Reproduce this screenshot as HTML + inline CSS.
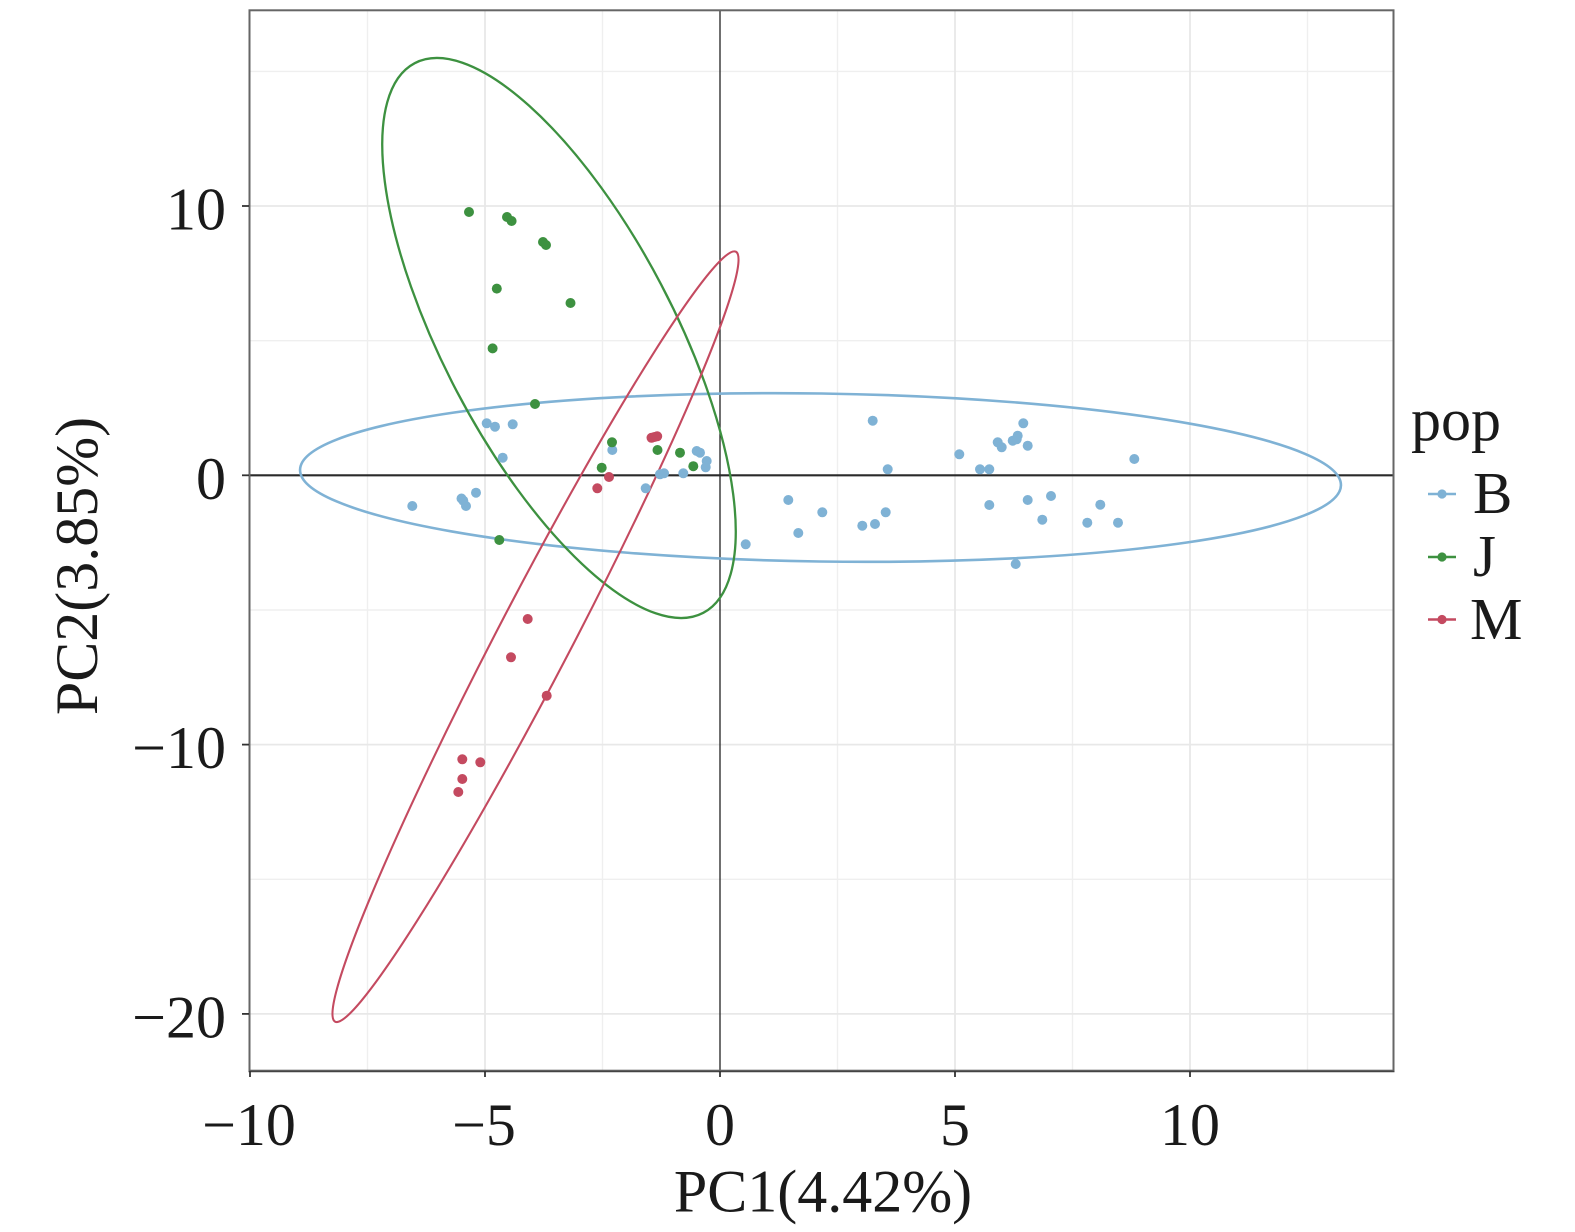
<!DOCTYPE html>
<html>
<head>
<meta charset="utf-8">
<style>
html,body{margin:0;padding:0;background:#fff;}
svg{display:block;}
text{font-family:"Liberation Serif","Times New Roman",serif;fill:#1a1a1a;}
</style>
</head>
<body>
<svg width="1575" height="1232" viewBox="0 0 1575 1232" xmlns="http://www.w3.org/2000/svg">
<rect x="0" y="0" width="1575" height="1232" fill="#fff"/>
<g stroke="#efefef" stroke-width="1.4">
<line x1="367.5" y1="10" x2="367.5" y2="1071"/>
<line x1="602.5" y1="10" x2="602.5" y2="1071"/>
<line x1="837.5" y1="10" x2="837.5" y2="1071"/>
<line x1="1072.5" y1="10" x2="1072.5" y2="1071"/>
<line x1="1307.5" y1="10" x2="1307.5" y2="1071"/>
<line x1="249" y1="71.4" x2="1394" y2="71.4"/>
<line x1="249" y1="340.7" x2="1394" y2="340.7"/>
<line x1="249" y1="610" x2="1394" y2="610"/>
<line x1="249" y1="879.3" x2="1394" y2="879.3"/>
</g>
<g stroke="#e8e8e8" stroke-width="1.8">
<line x1="485" y1="10" x2="485" y2="1071"/>
<line x1="955" y1="10" x2="955" y2="1071"/>
<line x1="1190" y1="10" x2="1190" y2="1071"/>
<line x1="249" y1="206" x2="1394" y2="206"/>
<line x1="249" y1="744.6" x2="1394" y2="744.6"/>
<line x1="249" y1="1013.9" x2="1394" y2="1013.9"/>
</g>
<line x1="720" y1="10" x2="720" y2="1071" stroke="#222" stroke-width="1.3"/>
<line x1="249" y1="475.3" x2="1394" y2="475.3" stroke="#2a2a2a" stroke-width="2.2"/>
<g fill="none">
<ellipse cx="820.5" cy="477.5" rx="520.5" ry="84" transform="rotate(0.85 820.5 477.5)" stroke="#7fb2d5" stroke-width="2.6"/>
<ellipse cx="559" cy="338" rx="310.4" ry="115.3" transform="rotate(62.3 559 338)" stroke="#3d9140" stroke-width="2.3"/>
<ellipse cx="535.5" cy="636.7" rx="434" ry="37" transform="rotate(-62.5 535.5 636.7)" stroke="#c44a60" stroke-width="2.1"/>
</g>
<g fill="#7fb2d5">
<circle cx="486.7" cy="423.3" r="5"/>
<circle cx="495" cy="426.7" r="5"/>
<circle cx="512.7" cy="424.3" r="5"/>
<circle cx="502.7" cy="457.7" r="5"/>
<circle cx="412.3" cy="506" r="5"/>
<circle cx="463.3" cy="500.7" r="5"/>
<circle cx="466" cy="506" r="5"/>
<circle cx="461.5" cy="498.5" r="5"/>
<circle cx="476" cy="492.7" r="5"/>
<circle cx="612.3" cy="450" r="5"/>
<circle cx="645.7" cy="488.3" r="5"/>
<circle cx="660" cy="474.3" r="5"/>
<circle cx="664" cy="473.3" r="5"/>
<circle cx="683.3" cy="473.3" r="5"/>
<circle cx="696.7" cy="451" r="5"/>
<circle cx="700" cy="452.7" r="5"/>
<circle cx="706.7" cy="461" r="5"/>
<circle cx="705.7" cy="467.3" r="5"/>
<circle cx="745.7" cy="544.3" r="5"/>
<circle cx="872.7" cy="420.7" r="5"/>
<circle cx="887.7" cy="469.3" r="5"/>
<circle cx="788.3" cy="500" r="5"/>
<circle cx="822.3" cy="512.3" r="5"/>
<circle cx="798.3" cy="533" r="5"/>
<circle cx="862.3" cy="525.7" r="5"/>
<circle cx="875" cy="524" r="5"/>
<circle cx="885.7" cy="512.3" r="5"/>
<circle cx="959.3" cy="454.3" r="5"/>
<circle cx="980" cy="469.3" r="5"/>
<circle cx="989.3" cy="469.3" r="5"/>
<circle cx="997.7" cy="442.3" r="5"/>
<circle cx="1001.7" cy="447.3" r="5"/>
<circle cx="1012.7" cy="440.7" r="5"/>
<circle cx="1017.7" cy="435.7" r="5"/>
<circle cx="1016.7" cy="439.3" r="5"/>
<circle cx="1023.3" cy="423.3" r="5"/>
<circle cx="1027.7" cy="445.7" r="5"/>
<circle cx="989.3" cy="505" r="5"/>
<circle cx="1027.7" cy="500" r="5"/>
<circle cx="1051" cy="496" r="5"/>
<circle cx="1042.3" cy="519.7" r="5"/>
<circle cx="1087.3" cy="522.7" r="5"/>
<circle cx="1100.3" cy="504.7" r="5"/>
<circle cx="1118" cy="522.7" r="5"/>
<circle cx="1015.7" cy="564" r="5"/>
<circle cx="1134.3" cy="459" r="5"/>
</g>
<g fill="#3d9140">
<circle cx="469" cy="212" r="5"/>
<circle cx="507" cy="217" r="5"/>
<circle cx="511.6" cy="221" r="5"/>
<circle cx="543" cy="242" r="5"/>
<circle cx="546" cy="245" r="5"/>
<circle cx="496.8" cy="288.6" r="5"/>
<circle cx="570.5" cy="303" r="5"/>
<circle cx="492.6" cy="348.4" r="5"/>
<circle cx="535" cy="404" r="5"/>
<circle cx="612" cy="442.3" r="5"/>
<circle cx="601.7" cy="467.7" r="5"/>
<circle cx="657.5" cy="450" r="5"/>
<circle cx="680" cy="452.7" r="5"/>
<circle cx="693.3" cy="466.2" r="5"/>
<circle cx="499.3" cy="540" r="5"/>
</g>
<g fill="#c44a60">
<circle cx="651.5" cy="437.8" r="5"/>
<circle cx="654.5" cy="437" r="5"/>
<circle cx="657.2" cy="436.3" r="5"/>
<circle cx="609" cy="477" r="5"/>
<circle cx="597.3" cy="488.3" r="5"/>
<circle cx="527.7" cy="619" r="5"/>
<circle cx="511" cy="657.3" r="5"/>
<circle cx="546.7" cy="695.7" r="5"/>
<circle cx="462.3" cy="759.3" r="5"/>
<circle cx="480.3" cy="762.3" r="5"/>
<circle cx="462.3" cy="779" r="5"/>
<circle cx="458.3" cy="792" r="5"/>
</g>
<rect x="249.5" y="10.3" width="1144" height="1060.4" fill="none" stroke="#666" stroke-width="2"/>
<line x1="248.5" y1="1071.5" x2="1394.5" y2="1071.5" stroke="#444" stroke-width="1.6"/>
<g stroke="#333" stroke-width="1.8">
<line x1="242" y1="206" x2="249" y2="206"/>
<line x1="242" y1="475.3" x2="249" y2="475.3"/>
<line x1="242" y1="744.6" x2="249" y2="744.6"/>
<line x1="242" y1="1013.9" x2="249" y2="1013.9"/>
<line x1="250" y1="1071" x2="250" y2="1077"/>
<line x1="485" y1="1071" x2="485" y2="1077"/>
<line x1="720" y1="1071" x2="720" y2="1077"/>
<line x1="955" y1="1071" x2="955" y2="1077"/>
<line x1="1190" y1="1071" x2="1190" y2="1077"/>
</g>
<g font-size="60" text-anchor="end">
<text x="226" y="229.5">10</text>
<text x="226" y="498.8">0</text>
<text x="226" y="768.1">−10</text>
<text x="226" y="1037.4">−20</text>
</g>
<g font-size="60" text-anchor="middle">
<text x="249" y="1145">−10</text>
<text x="484" y="1145">−5</text>
<text x="720" y="1145">0</text>
<text x="955" y="1145">5</text>
<text x="1190" y="1145">10</text>
</g>
<text x="823" y="1211.5" font-size="60" text-anchor="middle">PC1(4.42%)</text>
<text transform="translate(97,566) rotate(-90)" font-size="60" text-anchor="middle">PC2(3.85%)</text>
<text x="1411" y="440" font-size="60">pop</text>
<g stroke-width="2.6">
<line x1="1428" y1="494" x2="1456" y2="494" stroke="#7fb2d5"/>
<line x1="1428" y1="557" x2="1456" y2="557" stroke="#3d9140"/>
<line x1="1428" y1="619.5" x2="1456" y2="619.5" stroke="#c44a60"/>
</g>
<circle cx="1442" cy="494" r="4.6" fill="#7fb2d5"/>
<circle cx="1442" cy="557" r="4.6" fill="#3d9140"/>
<circle cx="1442" cy="619.5" r="4.6" fill="#c44a60"/>
<g font-size="59">
<text x="1473" y="513">B</text>
<text x="1473" y="576">J</text>
<text x="1470" y="639">M</text>
</g>
</svg>
</body>
</html>
